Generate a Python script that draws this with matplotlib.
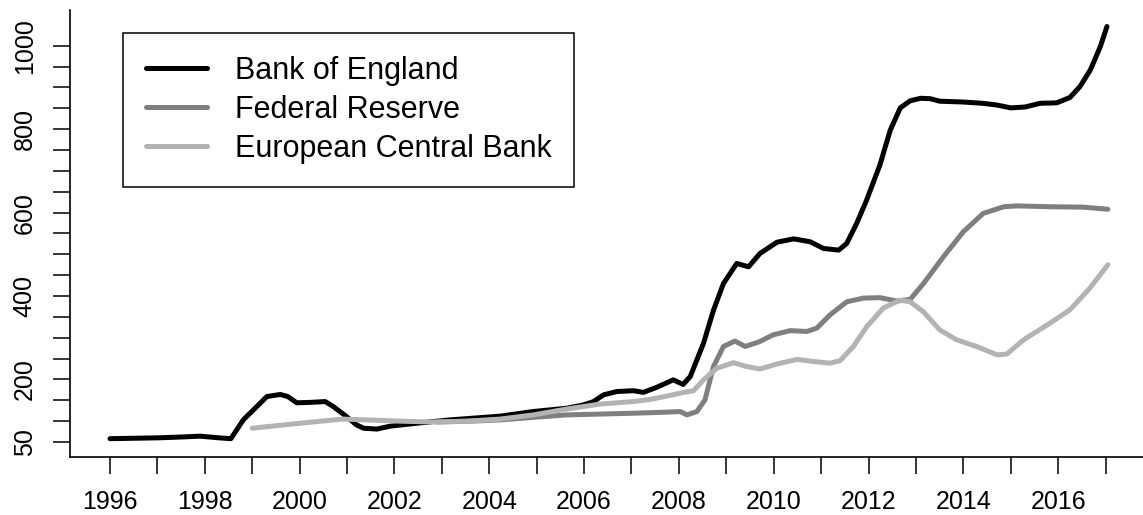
import matplotlib
matplotlib.use("Agg")
import matplotlib.pyplot as plt

# ===========================
# DATA
# ===========================

boe_year = [1996.0, 1996.5, 1997.0, 1997.5, 1997.9, 1998.3, 1998.55, 1998.81, 1999.06,
            1999.31, 1999.59, 1999.75, 1999.94, 2000.22, 2000.54, 2000.71, 2000.99,
            2001.2, 2001.35, 2001.63, 2001.91, 2002.47, 2003.17, 2004.23, 2004.92,
            2005.63, 2005.99, 2006.2, 2006.41, 2006.69, 2007.04, 2007.25, 2007.53,
            2007.88, 2008.09, 2008.24, 2008.38, 2008.52, 2008.73, 2008.94, 2009.22,
            2009.47, 2009.71, 2010.07, 2010.42, 2010.77, 2011.05, 2011.37, 2011.54,
            2011.75, 2011.96, 2012.24, 2012.46, 2012.67, 2012.88, 2013.1, 2013.3,
            2013.5, 2014.0, 2014.4, 2014.7, 2015.0, 2015.3, 2015.62, 2015.97,
            2016.25, 2016.46, 2016.68, 2016.89, 2017.03]
boe_val = [58, 59, 60, 62, 64, 60, 58, 103, 131,
           159, 164, 159, 144, 145, 147, 135, 111,
           91, 83, 81, 88, 95, 103, 112, 123,
           131, 139, 147, 163, 171, 173, 169, 181,
           199, 188, 207, 247, 287, 366, 430, 478,
           470, 502, 529, 537, 530, 514, 510, 526,
           574, 630, 714, 798, 851, 868, 874, 873,
           867, 865, 862, 858, 851, 853, 862, 863,
           876, 902, 942, 998, 1046]

fed_year = [2002.9, 2003.6, 2004.23, 2004.92, 2005.63, 2006.34, 2007.04, 2007.6,
            2008.03, 2008.17, 2008.38, 2008.55, 2008.73, 2008.94, 2009.18, 2009.4,
            2009.71, 2009.99, 2010.35, 2010.7, 2010.91, 2011.19, 2011.54, 2011.89,
            2012.24, 2012.6, 2012.88, 2013.16, 2013.58, 2014.0, 2014.42, 2014.85,
            2015.13, 2015.83, 2016.53, 2017.05]
fed_val = [98, 100, 103, 109, 115, 117, 119, 121,
           123, 115, 123, 151, 231, 279, 292, 279,
           291, 307, 317, 315, 323, 355, 386, 395,
           396, 388, 392, 430, 494, 554, 598, 614,
           616, 614, 613, 608]

ecb_year = [1999.0, 2000.0, 2000.92, 2001.42, 2002.12, 2002.82, 2003.53, 2004.23,
            2004.93, 2005.63, 2006.34, 2007.04, 2007.39, 2007.74, 2008.1, 2008.31,
            2008.52, 2008.8, 2009.15, 2009.43, 2009.71, 2010.07, 2010.49, 2010.84,
            2011.19, 2011.4, 2011.68, 2011.96, 2012.31, 2012.66, 2012.88, 2013.16,
            2013.5, 2013.86, 2014.28, 2014.71, 2014.92, 2015.27, 2015.83, 2016.25,
            2016.67, 2017.05]
ecb_val = [83, 95, 105, 103, 100, 98, 100, 105,
           115, 129, 141, 147, 152, 160, 169, 173,
           199, 227, 240, 231, 225, 237, 248, 243,
           239, 245, 279, 326, 371, 390, 386, 362,
           319, 295, 279, 259, 261, 295, 335, 367,
           419, 475]

series_names = ["Bank of England", "Federal Reserve", "European Central Bank"]
series_colors = ["#000000", "#7f7f7f", "#b3b3b3"]

x_ticks = list(range(1996, 2018))
x_labels = [str(y) if y % 2 == 0 else "" for y in x_ticks]
y_ticks = list(range(50, 1001, 50))
y_labels = ["50", "", "", "200", "", "", "", "400", "", "", "", "600",
            "", "", "", "800", "", "", "", "1000"]

# ===========================
# PLOT
# ===========================

plt.rcParams["font.family"] = ["Liberation Sans", "DejaVu Sans"]

fig = plt.figure(figsize=(11.43, 5.15), dpi=100)
ax = fig.add_axes([70 / 1143, 1 - 456.7 / 515, 1 - 70 / 1143, (456.7 - 10) / 515])

for yrs, vals, name, col in zip([boe_year, fed_year, ecb_year],
                                [boe_val, fed_val, ecb_val],
                                series_names, series_colors):
    ax.plot(yrs, vals, color=col, lw=3.6, label=name,
            solid_joinstyle="round", solid_capstyle="round")

ax.set_xlim(1995.156, 2017.79)
ax.set_ylim(14.8, 1085.6)

for side in ["top", "right"]:
    ax.spines[side].set_visible(False)
for side in ["left", "bottom"]:
    ax.spines[side].set_linewidth(1.2)

ax.set_xticks(x_ticks)
ax.set_xticklabels(x_labels)
ax.set_yticks(y_ticks)
ax.set_yticklabels(y_labels, rotation=90, va="center")
ax.tick_params(axis="x", length=12, width=1.1, pad=12, labelsize=18)
ax.tick_params(axis="y", length=12, width=1.1, pad=12, labelsize=18)

leg = ax.legend(loc="upper left",
                bbox_to_anchor=((123 - 70) / 1073, (456.7 - 33) / 446.7, 451 / 1073, 0.0),
                mode="expand", fontsize=22, frameon=True, fancybox=False,
                edgecolor="black", framealpha=1, borderpad=0.74,
                labelspacing=0.30, handlelength=2.0, handletextpad=0.92,
                borderaxespad=0)
leg.get_frame().set_linewidth(1.1)

fig.savefig("out.png", dpi=100)
